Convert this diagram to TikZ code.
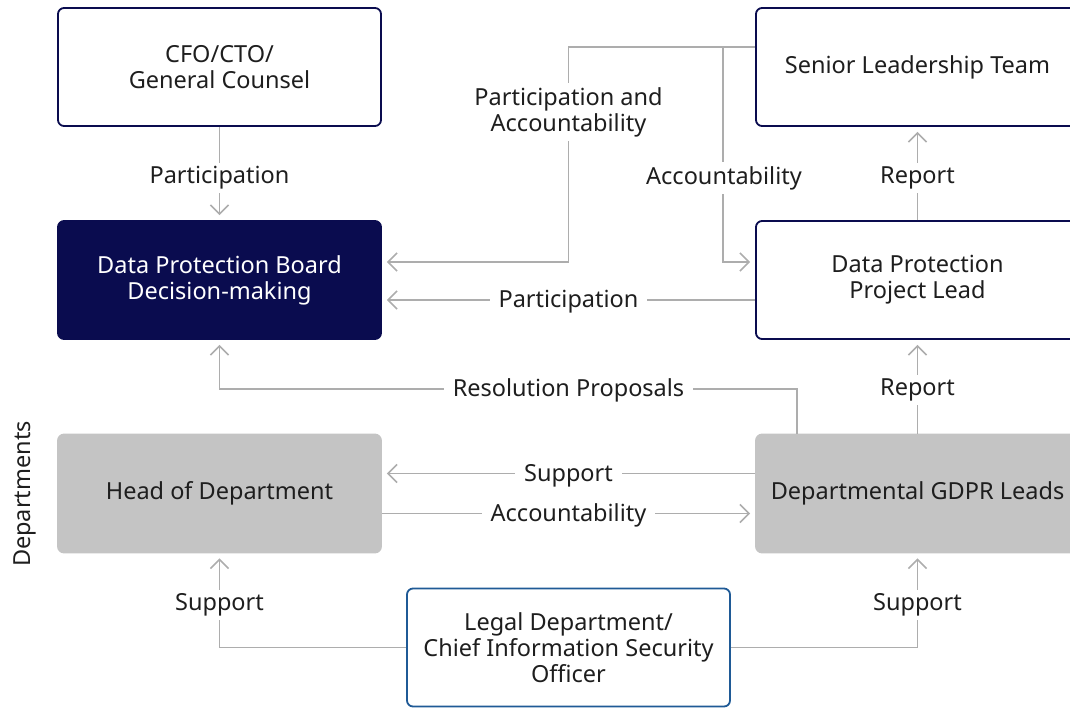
\documentclass[tikz,border=0pt]{standalone}
\usepackage{fontspec}
\setmainfont{Noto Sans}
\usetikzlibrary{calc}
\usetikzlibrary{arrows.meta}
\definecolor{navy}{HTML}{0A0C4F}
\definecolor{legalblue}{HTML}{1F5A96}
\definecolor{deptgray}{HTML}{C4C4C4}
\definecolor{linegray}{HTML}{ADADAD}
\definecolor{inkgray}{HTML}{1E1E1E}
\pgfmathsetmacro{\boxw}{323}
\pgfmathsetmacro{\boxh}{118}
\tikzstyle{unitbox}=[draw=navy,line width=1.8pt,rounded corners=6pt,minimum width=\boxw pt,minimum height=\boxh pt,align=center,text=inkgray,fill=white]
\tikzstyle{boardbox}=[unitbox,fill=navy,text=white]
\tikzstyle{deptbox}=[unitbox,draw=deptgray,fill=deptgray]
\tikzstyle{legalbox}=[unitbox,draw=legalblue]
\tikzstyle{flow}=[draw=linegray,line width=1.6pt]
\tikzstyle{flowarrow}=[flow,-{Straight Barb[length=9pt,width=18pt]},shorten >=5pt]
\tikzstyle{flowlabel}=[fill=white,text=inkgray,inner xsep=9pt,inner ysep=4pt,align=center,yshift=-2pt]

\begin{document}
\begin{tikzpicture}[x=1pt,y=-1pt,every node/.style={font=\fontsize{23.5}{26}\selectfont}]
\useasboundingbox (0,0) rectangle (1070,707);
% boxes
\node[unitbox] (cfo) at (219.5,67) {CFO/CTO/\\General Counsel};
\node[boardbox] (board) at (219.5,280) {Data Protection Board\\Decision-making};
\node[unitbox] (slt) at (917.5,67) {Senior Leadership Team};
\node[unitbox] (lead) at (917.5,280) {Data Protection\\Project Lead};
\node[deptbox] (head) at (219.5,493.5) {Head of Department};
\node[deptbox] (gdpr) at (917.5,493.5) {Departmental GDPR Leads};
\node[legalbox] (legal) at (568.5,647.5) {Legal Department/\\Chief Information Security\\Officer};
\node[rotate=90,text=inkgray] (dept) at (25,494) {Departments};
% top half
\coordinate (sltout) at ($(slt.north west)+(0,40)$);
\coordinate (split) at ($(sltout)+(-32,0)$);
\coordinate (mid) at ($(board.east)!0.5!(lead.west)$);
\draw[flowarrow] (cfo.south) -- (board.north);
\node[flowlabel] (lcfo) at (219.5,176) {Participation};
\draw[flow] (sltout) -- (split);
\draw[flowarrow] (split) -| ($(mid)+(0,-18)$) -- ($(board.east)+(0,-18)$);
\draw[flowarrow] (split) |- ($(lead.west)+(0,-18)$);
\node[flowlabel] (lslt) at (568.5,110) {Participation and\\Accountability};
\node[flowlabel] (lacc) at (724,176) {Accountability};
\draw[flowarrow] ($(lead.west)+(0,20)$) -- ($(board.east)+(0,20)$);
\node[flowlabel] (lpart) at (568.5,300) {Participation};
\draw[flowarrow] (lead.north) -- (slt.south);
\node[flowlabel] (lrep) at (917.5,176) {Report};
% bottom half
\draw[flowarrow] ($(gdpr.north west)+(42,0)$) |- ($(board.south)+(0,49)$) -- (board.south);
\node[flowlabel] (lres) at (568.5,388) {Resolution Proposals};
\draw[flowarrow] (gdpr.north) -- (lead.south);
\node[flowlabel] (lrep2) at (917.5,388) {Report};
\draw[flowarrow] ($(gdpr.west)+(0,-20)$) -- ($(head.east)+(0,-20)$);
\node[flowlabel] (lsup) at (568.5,474) {Support};
\draw[flowarrow] ($(head.east)+(0,20)$) -- ($(gdpr.west)+(0,20)$);
\node[flowlabel] (lacc2) at (568.5,513) {Accountability};
\draw[flowarrow] (legal.west) -| (head.south);
\node[flowlabel] (lsup2) at (219.5,603) {Support};
\draw[flowarrow] (legal.east) -| (gdpr.south);
\node[flowlabel] (lsup3) at (917.5,603) {Support};
\end{tikzpicture}
\end{document}
